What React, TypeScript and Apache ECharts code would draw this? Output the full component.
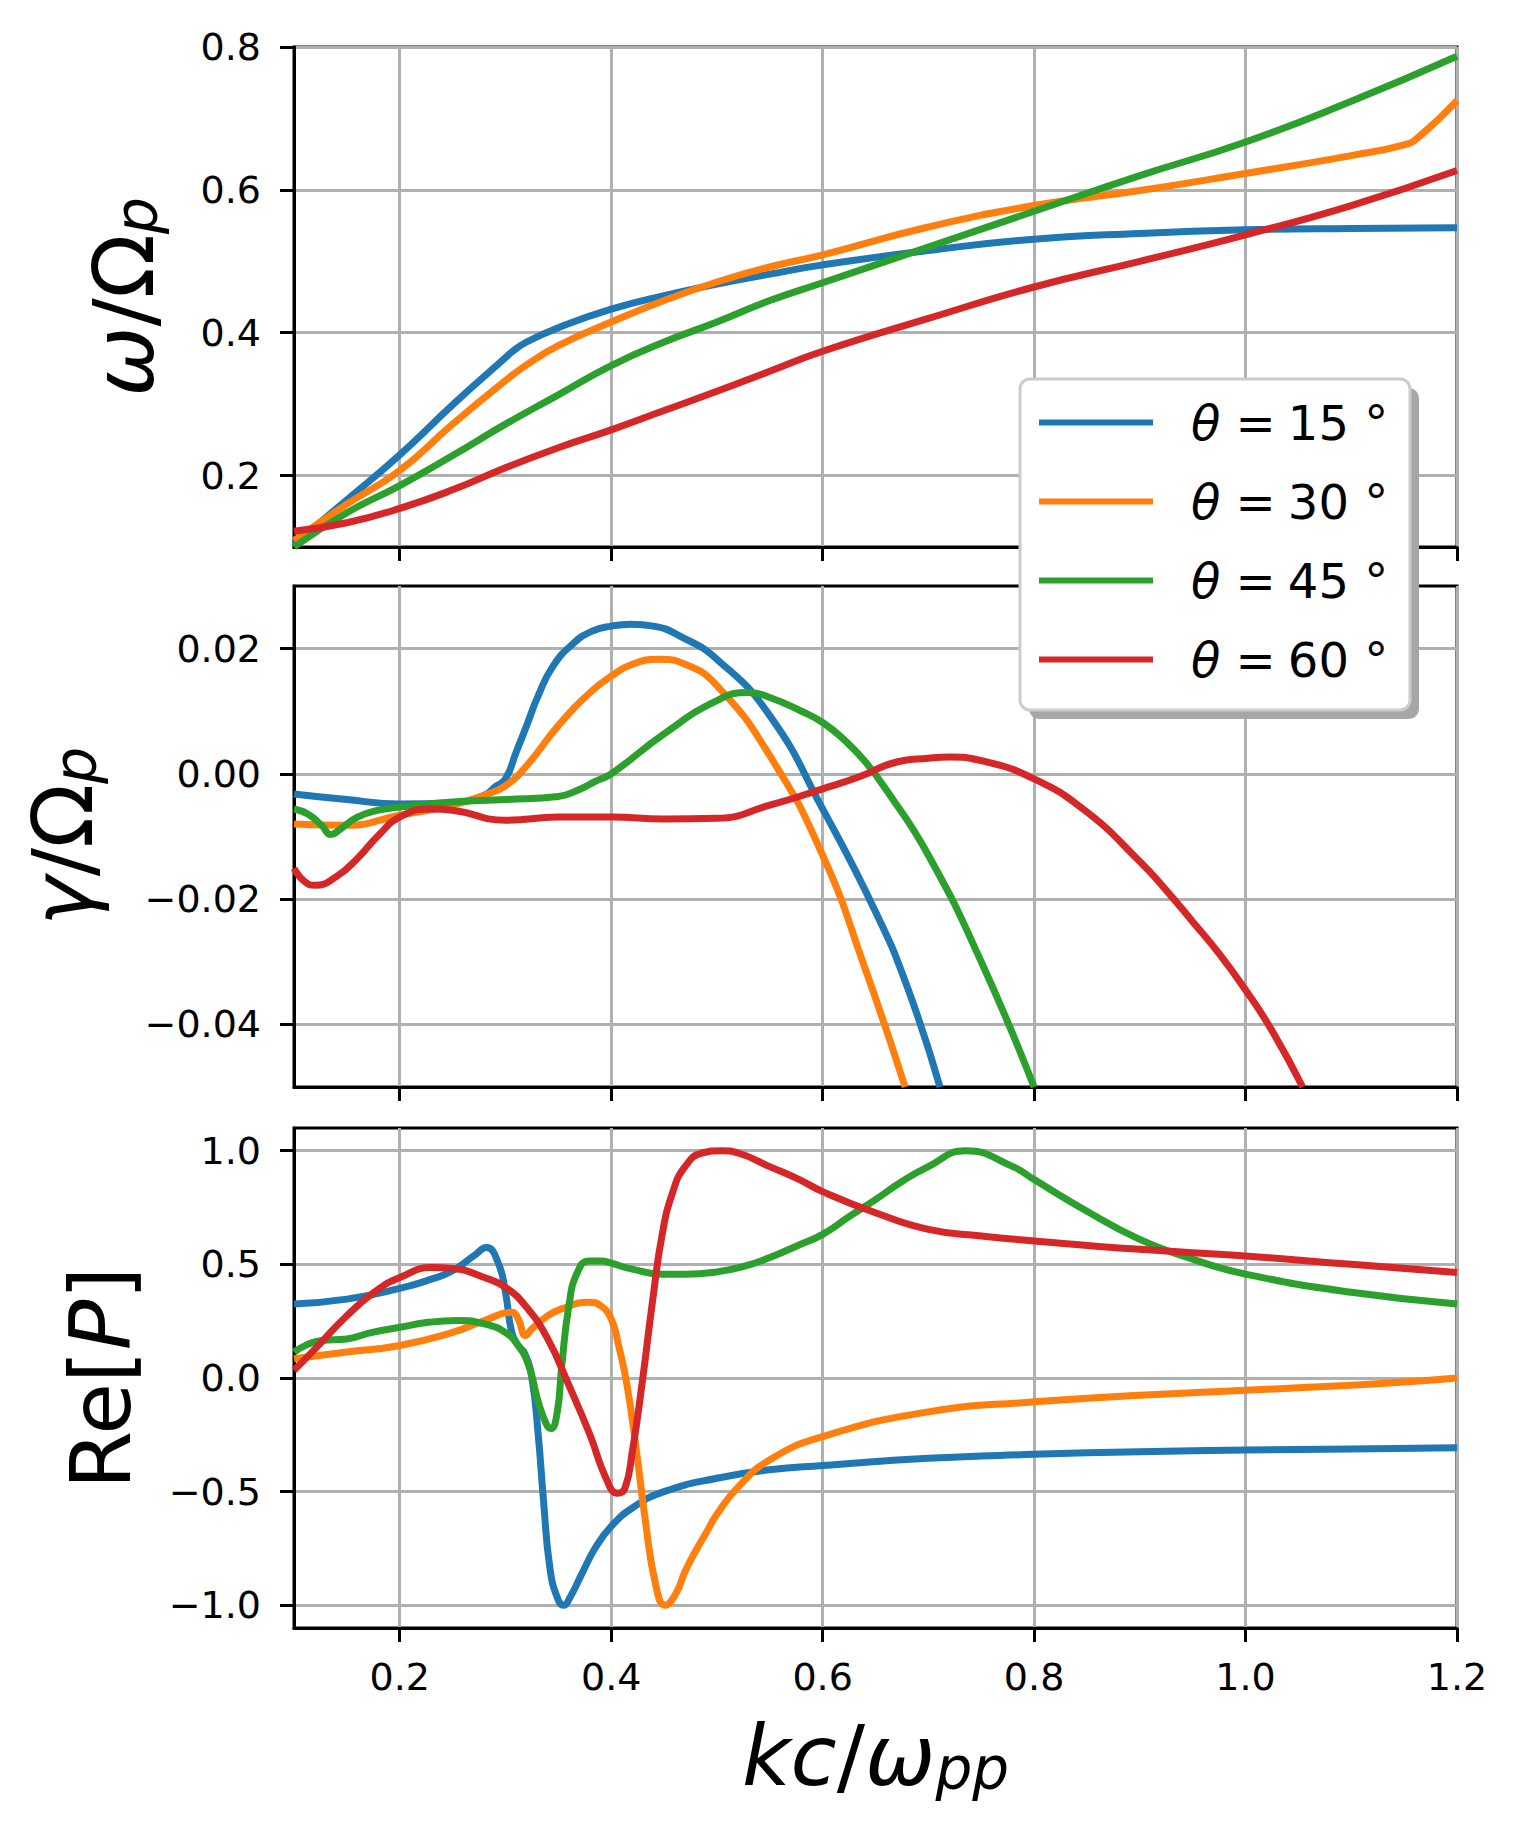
import React, { useEffect, useRef } from "react";
import * as echarts from "echarts";

// ---------- data ----------
const ANGLES = [15, 30, 45, 60];
const X_TICKS = [0.2, 0.4, 0.6, 0.8, 1.0, 1.2];
const OMEGA_TICKS = [0.2, 0.4, 0.6, 0.8];
const GAMMA_TICKS = [-0.04, -0.02, 0, 0.02];
const REP_TICKS = [-1.0, -0.5, 0, 0.5, 1.0];

// panel 1: omega / Omega_p
const omega15K = [0.1, 0.15, 0.2, 0.25, 0.3, 0.306, 0.32, 0.35, 0.4, 0.45, 0.5, 0.55, 0.6, 0.7, 0.8, 0.9, 1.0, 1.1, 1.2];
const omega15 = [0.104, 0.166, 0.229, 0.299, 0.365, 0.373, 0.387, 0.407, 0.433, 0.452, 0.468, 0.482, 0.495, 0.515, 0.531, 0.539, 0.544, 0.546, 0.547];
const omega30K = [0.1, 0.15, 0.2, 0.25, 0.3, 0.32, 0.35, 0.4, 0.45, 0.5, 0.55, 0.6, 0.7, 0.8, 0.9, 1.0, 1.1, 1.15, 1.163, 1.2];
const omega30 = [0.109, 0.160, 0.207, 0.272, 0.333, 0.355, 0.382, 0.415, 0.445, 0.471, 0.492, 0.509, 0.548, 0.578, 0.599, 0.623, 0.648, 0.663, 0.673, 0.725];
const omega45K = [0.1, 0.15, 0.2, 0.25, 0.3, 0.35, 0.4, 0.45, 0.5, 0.55, 0.6, 0.7, 0.8, 0.9, 1.0, 1.1, 1.2];
const omega45 = [0.1, 0.148, 0.186, 0.228, 0.272, 0.313, 0.354, 0.387, 0.415, 0.445, 0.47, 0.52, 0.57, 0.62, 0.667, 0.724, 0.787];
const omega60K = [0.1, 0.15, 0.2, 0.25, 0.3, 0.35, 0.4, 0.45, 0.5, 0.55, 0.6, 0.7, 0.8, 0.9, 1.0, 1.1, 1.2];
const omega60 = [0.122, 0.134, 0.154, 0.18, 0.211, 0.239, 0.264, 0.291, 0.318, 0.346, 0.374, 0.42, 0.464, 0.5, 0.537, 0.578, 0.627];

// panel 2: gamma / Omega_p
const gamma15K = [0.1, 0.15, 0.2, 0.25, 0.28, 0.29, 0.3, 0.31, 0.32, 0.331, 0.345, 0.364, 0.382, 0.4, 0.419, 0.44, 0.465, 0.5, 0.55, 0.6, 0.65, 0.68, 0.711];
const gamma15 = [-0.0032, -0.0041, -0.0048, -0.0046, -0.0034, -0.0021, -0.0008, 0.0034, 0.0077, 0.0125, 0.0172, 0.0208, 0.0228, 0.0236, 0.0239, 0.0236, 0.022, 0.0183, 0.0093, -0.0056, -0.022, -0.034, -0.05];
const gamma30K = [0.1, 0.15, 0.2, 0.25, 0.28, 0.3, 0.32, 0.35, 0.38, 0.4, 0.42, 0.445, 0.47, 0.5, 0.55, 0.6, 0.64, 0.678];
const gamma30 = [-0.008, -0.0082, -0.0066, -0.005, -0.0034, -0.0019, 0.0013, 0.0077, 0.013, 0.0156, 0.0175, 0.0183, 0.0175, 0.0141, 0.0029, -0.013, -0.031, -0.05];
const gamma45K = [0.1, 0.113, 0.126, 0.135, 0.144, 0.16, 0.18, 0.2, 0.25, 0.3, 0.35, 0.37, 0.385, 0.4, 0.45, 0.5, 0.53, 0.55, 0.58, 0.6, 0.62, 0.64, 0.66, 0.7, 0.75, 0.8];
const gamma45 = [-0.0056, -0.0064, -0.0082, -0.0097, -0.0088, -0.0069, -0.0058, -0.0053, -0.0045, -0.0041, -0.0036, -0.0025, -0.0012, 0.0, 0.0064, 0.0117, 0.013, 0.0122, 0.01, 0.0082, 0.0055, 0.002, -0.0025, -0.013, -0.03, -0.05];
const gamma60K = [0.1, 0.11, 0.12, 0.14, 0.16, 0.18, 0.2, 0.23, 0.25, 0.3, 0.35, 0.4, 0.45, 0.5, 0.55, 0.6, 0.634, 0.67, 0.7, 0.72, 0.75, 0.8, 0.85, 0.9, 0.925, 0.95, 0.975, 1.0, 1.025, 1.054];
const gamma60 = [-0.0151, -0.0172, -0.0178, -0.0164, -0.0135, -0.0098, -0.0069, -0.0056, -0.0058, -0.0074, -0.0069, -0.0069, -0.0072, -0.0071, -0.005, -0.0024, -0.0005, 0.0019, 0.0025, 0.0027, 0.0021, -0.0008, -0.0061, -0.014, -0.0186, -0.0236, -0.0287, -0.0345, -0.041, -0.05];

// panel 3: Re[P]
const reP15K = [0.1, 0.15, 0.2, 0.23, 0.25, 0.27, 0.282, 0.293, 0.3, 0.306, 0.312, 0.318, 0.325, 0.331, 0.336, 0.342, 0.349, 0.355, 0.361, 0.372, 0.385, 0.4, 0.42, 0.45, 0.5, 0.55, 0.6, 0.7, 0.8, 0.9, 1.0, 1.1, 1.2];
const reP15 = [0.326, 0.347, 0.394, 0.435, 0.472, 0.537, 0.574, 0.508, 0.377, 0.2, 0.143, 0.11, 0.0, -0.25, -0.54, -0.835, -0.966, -1.0, -0.966, -0.864, -0.747, -0.653, -0.572, -0.5, -0.441, -0.404, -0.385, -0.353, -0.336, -0.324, -0.317, -0.312, -0.307];
const reP30K = [0.1, 0.15, 0.2, 0.25, 0.28, 0.306, 0.312, 0.319, 0.325, 0.338, 0.353, 0.379, 0.39, 0.4, 0.407, 0.415, 0.424, 0.432, 0.442, 0.451, 0.461, 0.47, 0.48, 0.49, 0.5, 0.52, 0.55, 0.6, 0.7, 0.8, 0.9, 1.0, 1.1, 1.15, 1.2];
const reP30 = [0.085, 0.114, 0.143, 0.201, 0.253, 0.289, 0.26, 0.187, 0.216, 0.267, 0.304, 0.333, 0.318, 0.26, 0.143, -0.032, -0.324, -0.616, -0.908, -1.0, -0.95, -0.85, -0.76, -0.68, -0.6, -0.48, -0.36, -0.258, -0.149, -0.105, -0.076, -0.054, -0.032, -0.018, 0.0];
const reP45K = [0.1, 0.126, 0.15, 0.173, 0.2, 0.227, 0.255, 0.28, 0.3, 0.312, 0.322, 0.331, 0.339, 0.343, 0.349, 0.353, 0.36, 0.368, 0.379, 0.391, 0.4, 0.42, 0.448, 0.47, 0.5, 0.527, 0.55, 0.575, 0.6, 0.625, 0.65, 0.675, 0.7, 0.735, 0.78, 0.8, 0.85, 0.9, 0.95, 1.0, 1.1, 1.2];
const reP45 = [0.114, 0.165, 0.172, 0.2, 0.223, 0.245, 0.253, 0.238, 0.2, 0.143, 0.055, -0.105, -0.207, -0.222, -0.149, 0.041, 0.318, 0.464, 0.515, 0.515, 0.505, 0.479, 0.457, 0.457, 0.467, 0.493, 0.53, 0.58, 0.632, 0.71, 0.785, 0.865, 0.93, 1.0, 0.93, 0.873, 0.734, 0.61, 0.523, 0.457, 0.377, 0.326];
const reP60K = [0.1, 0.12, 0.15, 0.18, 0.2, 0.23, 0.25, 0.28, 0.3, 0.32, 0.34, 0.36, 0.38, 0.395, 0.406, 0.413, 0.42, 0.429, 0.439, 0.448, 0.458, 0.47, 0.486, 0.505, 0.52, 0.55, 0.578, 0.6, 0.65, 0.7, 0.75, 0.8, 0.9, 1.0, 1.1, 1.2];
const reP60 = [0.034, 0.128, 0.274, 0.391, 0.442, 0.486, 0.482, 0.442, 0.399, 0.311, 0.172, -0.032, -0.251, -0.44, -0.507, -0.485, -0.324, -0.032, 0.333, 0.625, 0.815, 0.931, 0.99, 1.0, 0.99, 0.93, 0.873, 0.82, 0.727, 0.654, 0.625, 0.603, 0.566, 0.537, 0.5, 0.464];

// ---------- styling ----------
const FONT = "DejaVu Sans";
const COLORS = ["#1f77b4", "#ff7f0e", "#2ca02c", "#d62728"];
const SPINE = 3;
const GRIDLINE = "#b0b0b0";
const TICK_FONT = 38;
const LABEL_FONT = 84;
const LINE_W = 7;

const seriesNames = ANGLES.map((a) => `θ = ${a}°`);

const panels: number[][][][] = [
  [[omega15K, omega15], [omega30K, omega30], [omega45K, omega45], [omega60K, omega60]],
  [[gamma15K, gamma15], [gamma30K, gamma30], [gamma45K, gamma45], [gamma60K, gamma60]],
  [[reP15K, reP15], [reP30K, reP30], [reP45K, reP45], [reP60K, reP60]],
];

const minusFmt = (digits: number) => (v: number) => {
  const s = Math.abs(v).toFixed(digits);
  return v < -1e-9 ? "−" + s : s;
};

const nameRich = {
  i: { fontFamily: FONT, fontStyle: "italic", fontSize: LABEL_FONT, lineHeight: LABEL_FONT, color: "#000" },
  n: { fontFamily: FONT, fontSize: LABEL_FONT, lineHeight: LABEL_FONT, color: "#000" },
  s: { fontFamily: FONT, fontStyle: "italic", fontSize: 58, lineHeight: 42, verticalAlign: "bottom", color: "#000" },
};

function buildOption() {
  const gridBoxes = [
    { top: 47, height: 500 },
    { top: 586, height: 501 },
    { top: 1128, height: 500 },
  ];
  const grid = gridBoxes.map((g) => ({
    left: 294,
    right: 63,
    top: g.top,
    height: g.height,
    show: true,
    borderColor: "#000",
    borderWidth: SPINE,
    backgroundColor: "transparent",
    containLabel: false,
    outerBoundsMode: "none",
  }));

  const xAxis = [0, 1, 2].map((gi) => ({
    type: "value",
    gridIndex: gi,
    min: 0.1,
    max: 1.2,
    axisLine: { show: true, onZero: false, lineStyle: { color: "#000", width: SPINE } },
    axisTick: { show: true, inside: false, length: 14, customValues: X_TICKS, lineStyle: { color: "#000", width: SPINE } },
    axisLabel: {
      show: gi === 2,
      customValues: X_TICKS,
      margin: 30,
      fontFamily: FONT,
      fontSize: TICK_FONT,
      color: "#000",
      formatter: (v: number) => v.toFixed(1),
    },
    splitLine: { show: true, lineStyle: { color: GRIDLINE, width: SPINE } },
    ...(gi === 2
      ? {
          name: "{i|kc}{n|/}{i|ω}{s|pp}",
          nameLocation: "middle",
          nameGap: 86,
          nameMoveOverlap: false,
          nameTextStyle: { rich: nameRich },
        }
      : {}),
  }));

  const yDefs = [
    { min: 0.1, max: 0.8, ticks: OMEGA_TICKS, fmt: minusFmt(1), name: "{i|ω}{n|/Ω}{s|p}", gap: 128 },
    { min: -0.05, max: 0.03, ticks: GAMMA_TICKS, fmt: minusFmt(2), name: "{i|γ}{n|/Ω}{s|p}", gap: 189 },
    { min: -1.1, max: 1.1, ticks: REP_TICKS, fmt: minusFmt(1), name: "{n|Re[}{i|P}{n|]}", gap: 151 },
  ];
  const yAxis = yDefs.map((d, gi) => ({
    type: "value",
    gridIndex: gi,
    min: d.min,
    max: d.max,
    axisLine: { show: true, onZero: false, lineStyle: { color: "#000", width: SPINE } },
    axisTick: { show: true, inside: false, length: 14, customValues: d.ticks, lineStyle: { color: "#000", width: SPINE } },
    axisLabel: {
      customValues: d.ticks,
      margin: 33,
      fontFamily: FONT,
      fontSize: TICK_FONT,
      color: "#000",
      formatter: d.fmt,
    },
    splitLine: { show: true, lineStyle: { color: GRIDLINE, width: SPINE } },
    name: d.name,
    nameLocation: "middle",
    nameRotate: 90,
    nameGap: d.gap,
    nameMoveOverlap: false,
    nameTextStyle: { rich: nameRich },
  }));

  const series = panels.flatMap((panel, p) =>
    panel.map(([xs, ys], i) => ({
      type: "line",
      name: seriesNames[i],
      xAxisIndex: p,
      yAxisIndex: p,
      data: xs.map((x, j) => [x, ys[j]]),
      showSymbol: false,
      symbol: "none",
      smooth: 0.5,
      clip: true,
      z: 3,
      lineStyle: { color: COLORS[i], width: LINE_W, join: "round", cap: "butt" },
      itemStyle: { color: COLORS[i] },
    }))
  );

  return {
    animation: false,
    backgroundColor: "#fff",
    grid,
    xAxis,
    yAxis,
    series,
    legend: {
      data: seriesNames,
      orient: "vertical",
      left: 1039,
      top: 383,
      padding: 0,
      itemGap: 0,
      icon: "rect",
      itemWidth: 114,
      itemHeight: 6,
      z: 20,
      selectedMode: false,
      formatter: (name: string) => {
        const a = name.match(/\d+/)?.[0] ?? "";
        return `{sp|}{i|θ}{n| =\u2005${a} °}`;
      },
      textStyle: {
        fontFamily: FONT,
        fontSize: 48,
        lineHeight: 79,
        color: "#000",
        rich: {
          sp: { width: 33, lineHeight: 79 },
          i: { fontFamily: FONT, fontStyle: "italic", fontSize: 48, lineHeight: 79, color: "#000" },
          n: { fontFamily: FONT, fontSize: 48, lineHeight: 79, color: "#000" },
        },
      },
    },
    graphic: [
      {
        type: "rect",
        z: 10,
        silent: true,
        shape: { x: 1029, y: 388, width: 390, height: 331, r: 10 },
        style: { fill: "#a6a6a6" },
      },
      {
        type: "rect",
        z: 11,
        silent: true,
        shape: { x: 1020, y: 379, width: 390, height: 331, r: 10 },
        style: { fill: "#ffffff", stroke: "#cccccc", lineWidth: 3 },
      },
    ],
  };
}

export default function App() {
  const ref = useRef<HTMLDivElement>(null);
  useEffect(() => {
    document.body.style.margin = "0";
    if (!ref.current) return;
    const chart = echarts.init(ref.current, undefined, { renderer: "svg" });
    chart.setOption(buildOption() as any);
    return () => chart.dispose();
  }, []);
  return <div ref={ref} style={{ width: 1520, height: 1840, background: "#fff" }} />;
}
